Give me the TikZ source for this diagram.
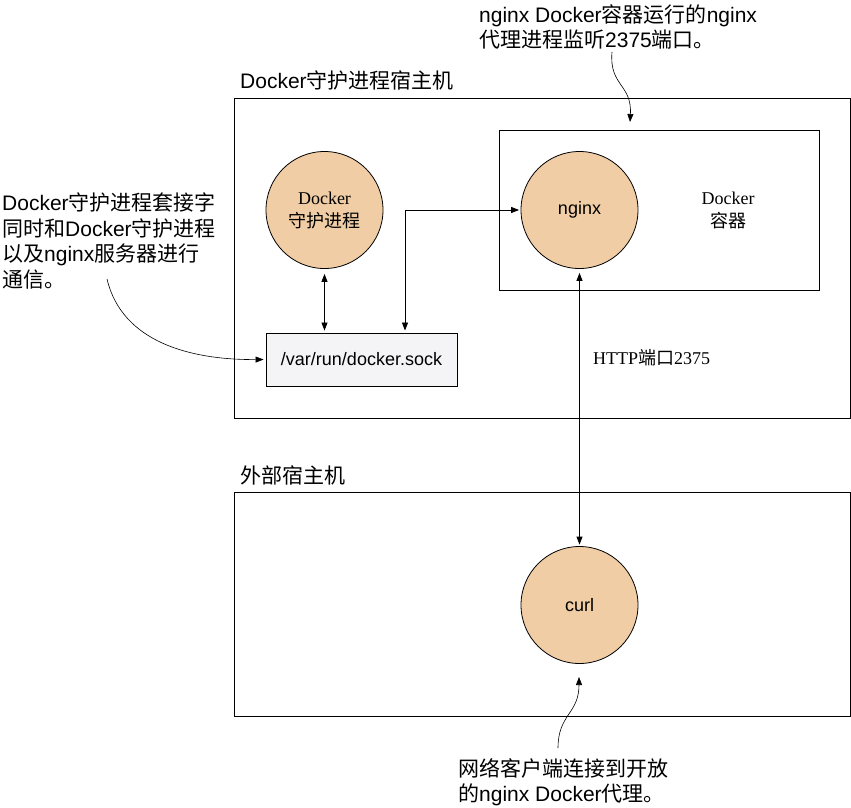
\documentclass[tikz,border=0pt]{standalone}
\usepackage{fontspec}
\setmainfont{Liberation Sans}
\newfontfamily\cjk{Noto Sans CJK SC}
\newfontfamily\tnr{Liberation Serif}
\newcommand\zh[1]{{\cjk#1}}
\usetikzlibrary{arrows.meta,calc}
\definecolor{peach}{RGB}{240,205,165}
\definecolor{sockfill}{RGB}{244,244,247}
\begin{document}
\begin{tikzpicture}[x=1pt,y=-1pt,
  >={Triangle[length=8pt,width=6pt]},
  hostbox/.style={draw, line width=1pt, inner sep=0pt, anchor=north west},
  proc/.style={circle, draw, fill=peach, minimum size=117pt, inner sep=0pt, line width=0.8pt, align=center},
  sockbox/.style={draw, fill=sockfill, line width=0.9pt, minimum width=191pt, minimum height=53pt, inner sep=0pt, font=\fontsize{18}{22}\selectfont},
  link/.style={<->, line width=0.8pt},
  callout/.style={->, line width=0.6pt},
  note/.style={font=\fontsize{21}{25.5}\selectfont, align=left, inner sep=0pt, anchor=west},
  boxlabel/.style={font=\fontsize{21}{25}\selectfont, inner sep=0pt, anchor=west},
  serifnote/.style={font=\fontsize{18}{23}\selectfont\tnr, inner sep=0pt, align=center}
]
\useasboundingbox (0,0) rectangle (851,808);

% host boxes
\node[hostbox, minimum width=616pt, minimum height=320pt] (host) at (234,98) {};
\node[boxlabel] (hostlabel) at (240,80) {Docker\zh{守护进程宿主机}};
\node[hostbox, minimum width=616pt, minimum height=224pt] (ext) at (234,492) {};
\node[boxlabel] (extlabel) at (240,475) {\zh{外部宿主机}};

% container
\node[hostbox, minimum width=320pt, minimum height=160pt] (container) at (499,130) {};
\node[serifnote] (contlabel) at (728,210.5) {Docker\\\zh{容器}};

% processes
\node[proc, font=\fontsize{18}{23}\selectfont] (daemon) at (324.5,210) {\tnr Docker\\\zh{守护进程}};
\node[proc, font=\fontsize{18}{22}\selectfont] (nginx) at (579.5,210) {nginx};
\node[proc, font=\fontsize{18}{22}\selectfont] (curl) at (579.5,605) {curl};
\node[sockbox] (sock) at (361.5,359.5) {/var/run/docker.sock};

% port label
\node[font=\fontsize{18}{22}\selectfont\tnr, inner sep=0pt, anchor=west] (port) at (593,358) {HTTP\zh{端口}2375};

% connectors
\draw[link, shorten <=5pt, shorten >=2pt] (daemon.south) -- (daemon.south |- sock.north);
\coordinate (bend) at (405,0);
\draw[link, shorten <=2pt, shorten >=1.5pt] (sock.north -| bend) |- (nginx.west);
\draw[link, shorten <=4pt, shorten >=1.5pt] (nginx.south) -- (curl.north);

% annotations
\node[note] (toptext) at (479,27) {nginx Docker\zh{容器运行的}nginx\\\zh{代理进程监听}2375\zh{端口。}};
\node[note] (lefttext) at (2,241) {Docker\zh{守护进程套接字}\\\zh{同时和}Docker\zh{守护进程}\\\zh{以及}nginx\zh{服务器进行}\\\zh{通信。}};
\node[note] (bottext) at (458,782) {\zh{网络客户端连接到开放}\\\zh{的}nginx Docker\zh{代理。}};

\coordinate (n1) at (107,279);
\draw[callout, shorten >=2pt] (n1) .. controls (122,342) and (190,360) .. (sock.west);
\coordinate (n2) at (612,52);
\coordinate (n2e) at (630,122);
\draw[callout] (n2) .. controls (609,86) and (632,84) .. (n2e);
\coordinate (n3) at (558,748);
\coordinate (n3e) at (579,677);
\draw[callout] (n3) .. controls (558,714) and (579,714) .. (n3e);
\end{tikzpicture}
\end{document}
